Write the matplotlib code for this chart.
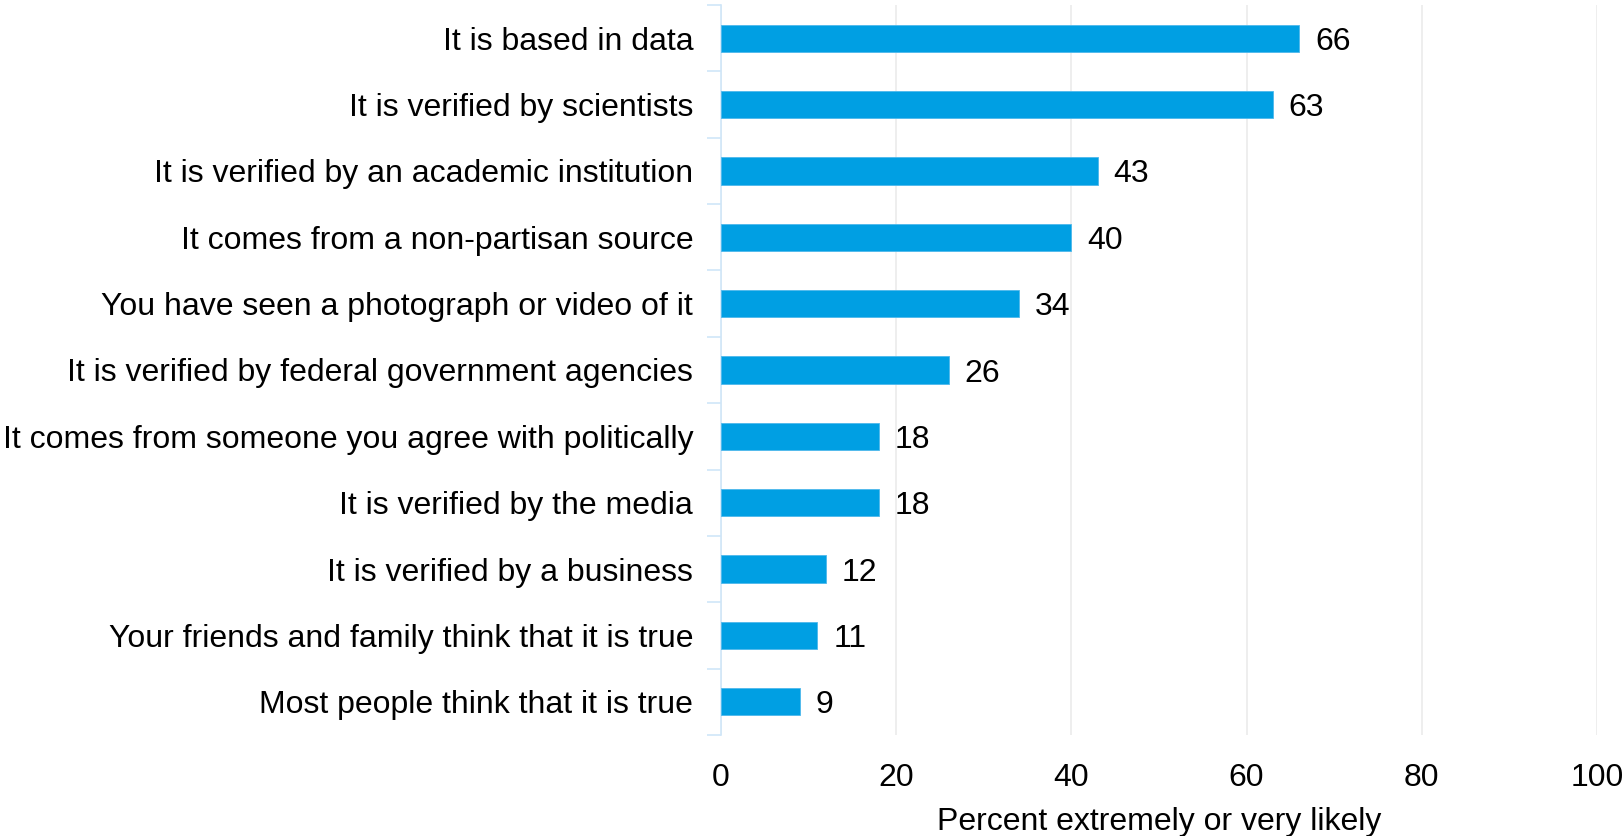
import matplotlib
matplotlib.use("Agg")
import matplotlib.pyplot as plt
import numpy as np

categories = [
    "It is based in data",
    "It is verified by scientists",
    "It is verified by an academic institution",
    "It comes from a non-partisan source",
    "You have seen a photograph or video of it",
    "It is verified by federal government agencies",
    "It comes from someone you agree with politically",
    "It is verified by the media",
    "It is verified by a business",
    "Your friends and family think that it is true",
    "Most people think that it is true",
]
values = [66, 63, 43, 40, 34, 26, 18, 18, 12, 11, 9]
xticks = [0, 20, 40, 60, 80, 100]
xlabel = "Percent extremely or very likely"

plt.rcParams['font.family'] = ['Liberation Sans', 'DejaVu Sans']
FS = 23

fig = plt.figure(figsize=(16.24, 8.36), dpi=100)
ax = fig.add_axes([721/1624, 1-735/836, (1597-721)/1624, (735-5)/836])

n = len(categories)
pos = np.arange(n)[::-1]
bar_color = "#009fe3"
ax.barh(pos, values, height=0.41, color=bar_color, edgecolor="#4db8ec", linewidth=0.6, zorder=3)
for p, v in zip(pos, values):
    ax.text(v + 1.8, p, f"{v}", va="center_baseline", ha="left", fontsize=FS, color="black")

ax.set_xlim(0, 100)
ax.set_ylim(-0.5, n - 0.5)
ax.set_xticks(xticks)
ax.set_xticklabels([str(t) for t in xticks], fontsize=FS)
ax.tick_params(axis="x", length=0, pad=20)

ax.set_yticks(pos)
ax.set_yticklabels(categories, fontsize=FS, va="center_baseline")
ax.tick_params(axis="y", which="major", length=0, pad=20)
ax.set_yticks(np.arange(-0.5, n, 1.0), minor=True)
ax.tick_params(axis="y", which="minor", length=10, width=1.2, color="#cfe6f8")

ax.xaxis.grid(True, color="#ebebeb", linewidth=1.2, zorder=0)
ax.set_axisbelow(True)
for s in ["top", "right", "bottom"]:
    ax.spines[s].set_visible(False)
ax.spines["left"].set_color("#cfe6f8")
ax.spines["left"].set_linewidth(1.2)

ax.set_xlabel(xlabel, fontsize=FS, labelpad=10)

fig.savefig("out.png", dpi=100, facecolor="white")
